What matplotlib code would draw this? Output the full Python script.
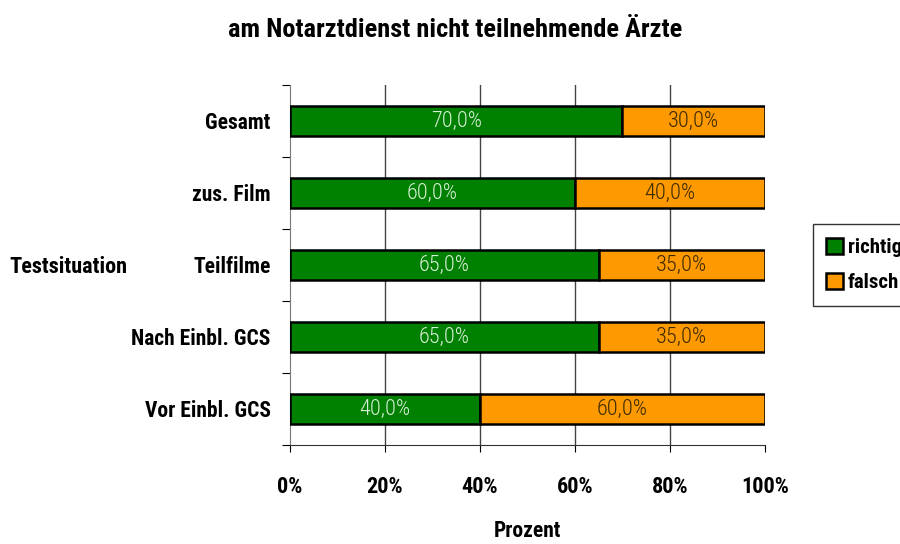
import matplotlib.pyplot as plt
import numpy as np

plt.rcParams['font.family'] = ['Roboto Condensed', 'DejaVu Sans']
plt.rcParams['font.stretch'] = 'condensed'

# Data
categories = ['Vor Einbl. GCS', 'Nach Einbl. GCS', 'Teilfilme', 'zus. Film', 'Gesamt']
richtig = [40.0, 65.0, 65.0, 60.0, 70.0]
falsch = [60.0, 35.0, 35.0, 40.0, 30.0]
xticks = [0, 20, 40, 60, 80, 100]

green = '#008000'
orange = '#ff9900'

fig = plt.figure(figsize=(9, 5.44), dpi=100)
ax = fig.add_axes([0.3222, 0.182, 0.5278, 0.6618])

y = np.arange(len(categories))
h = 0.41
ax.barh(y, richtig, height=h, color=green, edgecolor='black', linewidth=1.8,
        label='richtig', zorder=3)
ax.barh(y, falsch, left=richtig, height=h, color=orange, edgecolor='black',
        linewidth=1.8, label='falsch', zorder=3)

for i in range(len(categories)):
    ax.text(richtig[i] / 2, y[i], f'{richtig[i]:.1f}%'.replace('.', ','),
            ha='center', va='center', color='#d8efd8', fontsize=16,
            fontweight='light', zorder=4)
    ax.text(richtig[i] + falsch[i] / 2, y[i], f'{falsch[i]:.1f}%'.replace('.', ','),
            ha='center', va='center', color='#3a2a00', fontsize=16,
            fontweight='light', zorder=4)

ax.set_xlim(0, 100)
ax.set_ylim(-0.5, len(categories) - 0.5)
ax.set_xticks(xticks)
ax.set_xticklabels([f'{t}%' for t in xticks], fontsize=16, fontweight='bold')
ax.tick_params(axis='x', length=5, pad=17, color='black')

# category boundary ticks on the y axis, labels in between
ax.set_yticks(np.arange(-0.5, len(categories), 1.0))
ax.set_yticklabels([])
ax.set_yticks(y, minor=True)
ax.set_yticklabels(categories, minor=True, fontsize=15.5, fontweight='bold')
ax.tick_params(axis='y', which='major', length=6, color='black')
ax.tick_params(axis='y', which='minor', length=0, pad=14)

for t in xticks[1:-1]:
    ax.axvline(t, color='#444444', linewidth=1, zorder=1)

for s in ['top', 'right']:
    ax.spines[s].set_visible(False)
ax.spines['left'].set_color('#777777')
ax.spines['bottom'].set_color('#333333')

ax.set_xlabel('Prozent', fontsize=15.5, fontweight='bold', labelpad=16)
fig.text(0.076, 0.51, 'Testsituation', fontsize=16, fontweight='bold',
         ha='center', va='center')
fig.text(0.506, 0.945, 'am Notarztdienst nicht teilnehmende Ärzte', fontsize=19,
         fontweight='bold', ha='center', va='center')

leg = ax.legend(loc='center left', bbox_to_anchor=(1.1, 0.5), frameon=True,
                fancybox=False, edgecolor='black', prop={'weight': 'bold', 'size': 15},
                handlelength=0.8, handleheight=0.8, handletextpad=0.25,
                borderpad=0.65, borderaxespad=0, labelspacing=0.75)
leg.get_frame().set_linewidth(1)

fig.savefig('out.png', dpi=100)
